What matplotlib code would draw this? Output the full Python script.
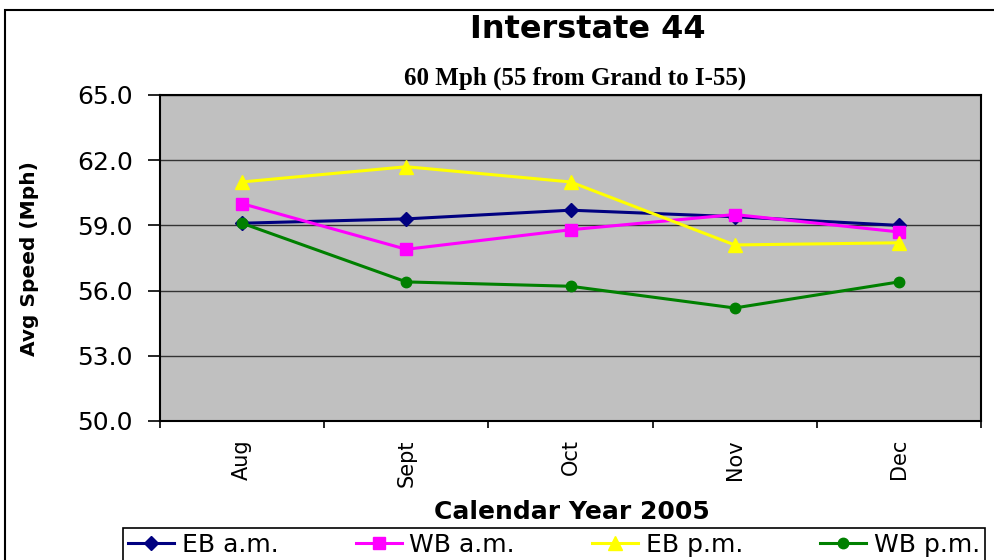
import matplotlib
matplotlib.use("Agg")
import matplotlib.pyplot as plt
from matplotlib.patches import Rectangle

months = ["Aug", "Sept", "Oct", "Nov", "Dec"]
eb_am = [59.1, 59.3, 59.7, 59.4, 59.0]
wb_am = [60.0, 57.9, 58.8, 59.5, 58.7]
eb_pm = [61.0, 61.7, 61.0, 58.1, 58.2]
wb_pm = [59.1, 56.4, 56.2, 55.2, 56.4]
yticks = [50.0, 53.0, 56.0, 59.0, 62.0, 65.0]

plt.rcParams['font.family'] = ['DejaVu Sans']

fig = plt.figure(figsize=(9.94, 5.6), dpi=100)
fig.patches.append(Rectangle((5/994, -0.1), 1.2, 1 - 10/560 + 0.1, transform=fig.transFigure,
                             fill=False, edgecolor='black', linewidth=1.5))
ax = fig.add_axes([160/994, 1 - 421/560, 821/994, 326/560])
ax.set_facecolor('#C0C0C0')

xs = [i + 0.5 for i in range(len(months))]
series = [
    (eb_am, 'EB a.m.', '#000080', 'D', 7),
    (wb_am, 'WB a.m.', '#FF00FF', 's', 8.5),
    (eb_pm, 'EB p.m.', '#FFFF00', '^', 10),
    (wb_pm, 'WB p.m.', '#008000', 'o', 7.5),
]
handles = []
for vals, lab, col, mk, ms in series:
    h, = ax.plot(xs, vals, color=col, marker=mk, markersize=ms, linewidth=2.2,
                 markeredgecolor=col, label=lab, clip_on=False, zorder=3)
    handles.append(h)

ax.set_xlim(0, 5)
ax.set_ylim(50, 65)
ax.set_yticks(yticks)
ax.set_yticklabels([f"{v:.1f}" for v in yticks], fontsize=18)
ax.yaxis.grid(True, color='#333333', linewidth=1)
ax.set_axisbelow(True)
ax.set_xticks(range(6))
ax.set_xticklabels([])
ax.set_xticks(xs, minor=True)
ax.set_xticklabels(months, minor=True, rotation=90, fontsize=15)
ax.tick_params(axis='x', which='minor', length=0, pad=13)
ax.tick_params(axis='x', which='major', length=5, direction='out', width=1.2)
ax.tick_params(axis='y', length=8.5, direction='out', width=1.2, pad=11)
for s in ax.spines.values():
    s.set_linewidth(1.5)
    s.set_color('black')

fig.text(588/994, 1 - 29/560, "Interstate 44", ha='center', va='center',
         fontsize=23, fontweight='bold')
fig.text(575/994, 1 - 78/560, "60 Mph (55 from Grand to I-55)", ha='center', va='center',
         fontsize=18, fontweight='bold', family=['Liberation Serif', 'DejaVu Serif'])
fig.text(572/994, 1 - 512/560, "Calendar Year 2005", ha='center', va='center',
         fontsize=18, fontweight='bold')
fig.text(30/994, 1 - 259/560, "Avg Speed (Mph)", ha='center', va='center',
         fontsize=14.5, fontweight='bold', rotation=90)

hb = 0.05
leg = fig.legend(handles=handles, loc='upper left', ncol=4,
                 bbox_to_anchor=(123/994, 1 - 528/560 - hb, 862/994, hb),
                 mode='expand', fontsize=18, frameon=True, fancybox=False,
                 edgecolor='black', framealpha=1, handlelength=1.85, handletextpad=0.3,
                 borderpad=0.2, borderaxespad=0)
leg.get_frame().set_linewidth(1.2)

fig.savefig("out.png", dpi=100)
